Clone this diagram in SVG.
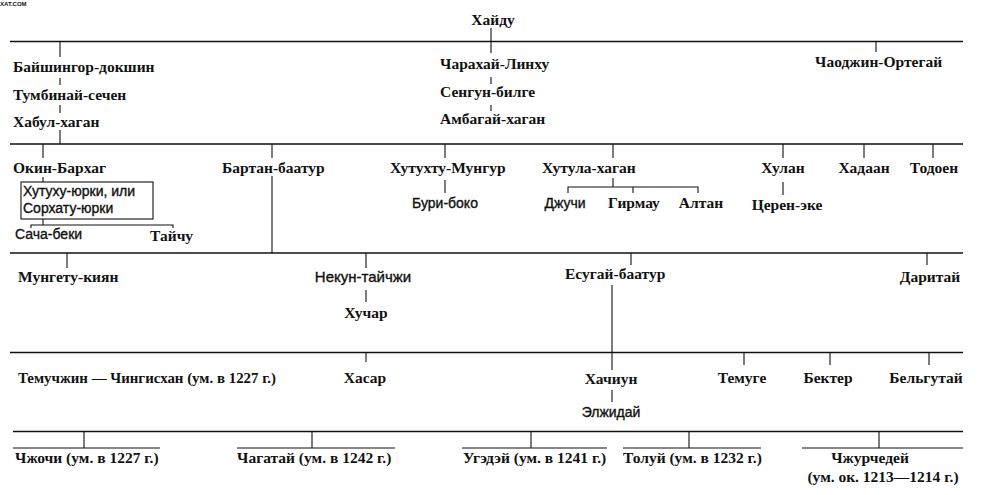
<svg xmlns="http://www.w3.org/2000/svg" width="988" height="495" viewBox="0 0 988 495">
<style>
text{font-family:'Liberation Serif','DejaVu Serif','Times New Roman',serif;font-size:15.5px;font-weight:bold;fill:#111}
.s{font-family:'Liberation Sans','DejaVu Sans',Arial,sans-serif;font-size:14px;font-weight:normal;stroke:#111;stroke-width:0.35}
.m{text-anchor:middle}
.wm{font-family:'Liberation Sans',Arial,sans-serif;font-size:6px;font-weight:bold}
.h{stroke:#111;stroke-width:1.6;fill:none}
.v{stroke:#111;stroke-width:1.1;fill:none}
</style>
<rect width="988" height="495" fill="#fff"/>
<text class="wm" x="0" y="6">XAT.COM</text>
<g id="connectors">
<path class="h" d="M10 41.5H963M10 144H963M10 253H963M10 352.5H963M13 431.5H963"/>
<path class="v" d="M491 28V53M491 77V84M491 105V111M876 41V52M60 41V57M60 78V85M60 105V113M60 130V144"/>
<path class="v" d="M43 144V158M43 177V182M43 219V225M31 228V225H173V228M272 144V158M272 176V253M445 144V158M445 180V193M613 144V158M613 178V187M568 193V187H698V193M633 187V193M783 144V158M783 182V195M864 144V158M933 144V158"/>
<path class="v" d="M67 253V268M366 253V268M366 290V302M631 253V265M612 285V370M927 253V265"/>
<path class="v" d="M366 352V362M744 352V365M830 352V365M929 352V365M612 390V402"/>
<path class="v" d="M84 431V448M312 431V448M531 431V448M689 431V448M879 431V448"/>
<path class="v" d="M13 448H160M237 448H395M462 448H607M623 448H761M802 448H963"/>
</g>
<g id="n-khaidu"><text class="m" x="493" y="25">Хайду</text></g>
<g id="n-baishingor"><text x="13" y="72">Байшингор-докшин</text></g>
<g id="n-tumbinai"><text x="13" y="100">Тумбинай-сечен</text></g>
<g id="n-khabul"><text x="13" y="127">Хабул-хаган</text></g>
<g id="n-charakhai"><text x="440" y="69">Чарахай-Линху</text></g>
<g id="n-sengun"><text x="440" y="97">Сенгун-билге</text></g>
<g id="n-ambagai"><text x="440" y="124">Амбагай-хаган</text></g>
<g id="n-chaodzhin"><text x="815" y="67">Чаоджин-Ортегай</text></g>
<g id="n-okin"><text x="13" y="173">Окин-Бархаг</text></g>
<g id="n-khutukhu"><rect x="21" y="182" width="132" height="37" fill="none" stroke="#111" stroke-width="1.1"/><text class="s" x="23" y="196">Хутуху-юрки, или</text><text class="s" x="23" y="213">Сорхату-юрки</text></g>
<g id="n-sacha"><text class="s" x="15" y="239">Сача-беки</text></g>
<g id="n-taichu"><text x="150" y="241">Тайчу</text></g>
<g id="n-bartan"><text x="222" y="173">Бартан-баатур</text></g>
<g id="n-khutukhtu"><text x="390" y="173">Хутухту-Мунгур</text></g>
<g id="n-buri"><text class="s m" x="445" y="208">Бури-боко</text></g>
<g id="n-khutula"><text x="542" y="173">Хутула-хаган</text></g>
<g id="n-dzhuchi"><text class="s m" x="565" y="208">Джучи</text></g>
<g id="n-girmau"><text class="m" x="634" y="208">Гирмау</text></g>
<g id="n-altan"><text class="m" x="701" y="208">Алтан</text></g>
<g id="n-khulan"><text class="m" x="783" y="173">Хулан</text></g>
<g id="n-tseren"><text class="m" x="787" y="210">Церен-эке</text></g>
<g id="n-khadaan"><text class="m" x="864" y="173">Хадаан</text></g>
<g id="n-todoen"><text class="m" x="934" y="173">Тодоен</text></g>
<g id="n-mungetu"><text x="18" y="282">Мунгету-киян</text></g>
<g id="n-nekun"><text class="s m" x="363" y="282" style="font-size:15px">Некун-тайчжи</text></g>
<g id="n-khuchar"><text class="m" x="366" y="318">Хучар</text></g>
<g id="n-esugai"><text x="565" y="279">Есугай-баатур</text></g>
<g id="n-daritai"><text class="m" x="930" y="282">Даритай</text></g>
<g id="n-temuchzhin"><text x="18" y="383" textLength="258" lengthAdjust="spacingAndGlyphs">Темучжин — Чингисхан (ум. в 1227 г.)</text></g>
<g id="n-khasar"><text class="m" x="365" y="383">Хасар</text></g>
<g id="n-khachiun"><text class="m" x="611" y="384">Хачиун</text></g>
<g id="n-elzhidai"><text class="s m" x="611" y="417">Элжидай</text></g>
<g id="n-temuge"><text class="m" x="742" y="383">Темуге</text></g>
<g id="n-bekter"><text class="m" x="828" y="383">Бектер</text></g>
<g id="n-belgutai"><text class="m" x="926" y="383">Бельгутай</text></g>
<g id="n-chzhochi"><text x="15" y="463">Чжочи (ум. в 1227 г.)</text></g>
<g id="n-chagatai"><text x="237" y="463">Чагатай (ум. в 1242 г.)</text></g>
<g id="n-ugedei"><text x="463" y="463">Угэдэй (ум. в 1241 г.)</text></g>
<g id="n-tolui"><text x="623" y="463">Толуй (ум. в 1232 г.)</text></g>
<g id="n-chzhurchedei"><text class="m" x="870" y="463">Чжурчедей</text><text class="m" x="883" y="482">(ум. ок. 1213—1214 г.)</text></g>
</svg>
